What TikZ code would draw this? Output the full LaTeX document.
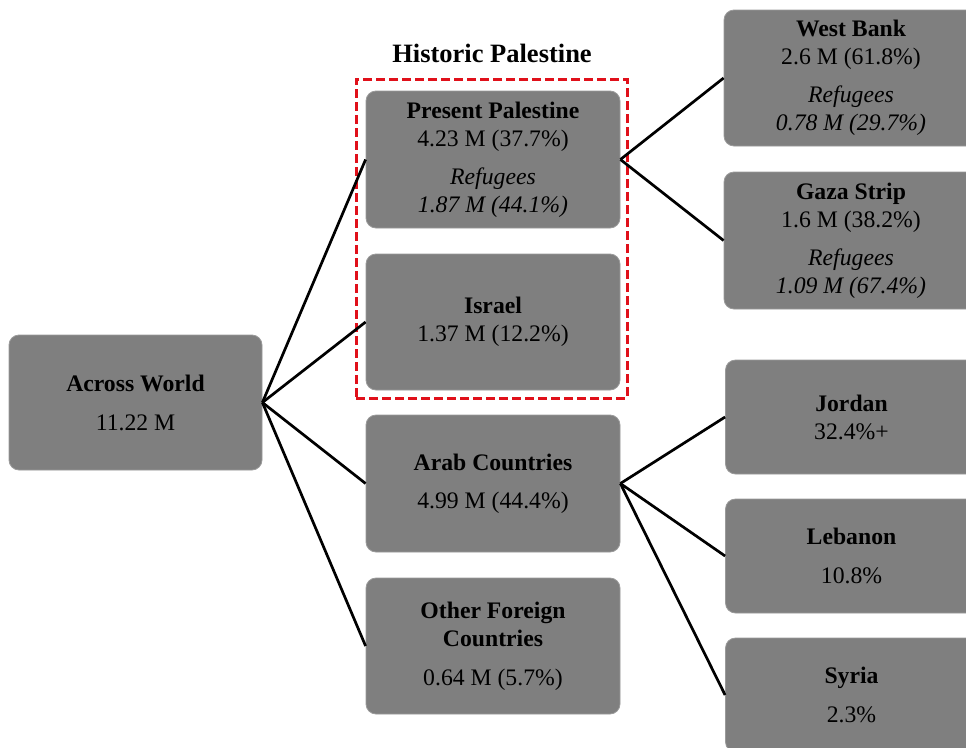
\documentclass[tikz,border=0pt]{standalone}
\usepackage{fontspec}
\setmainfont{Liberation Serif}
\usetikzlibrary{fit}
\definecolor{boxgray}{HTML}{7F7F7F}
\definecolor{boxedge}{HTML}{9A9A9A}
\definecolor{hpred}{HTML}{E0101A}
\begin{document}
\begin{tikzpicture}[x=1pt,y=-1pt,
 box/.style={draw=boxedge, line width=0.8pt, fill=boxgray, rounded corners=10pt,
   align=center, font=\fontsize{23.7}{28}\selectfont, text=black, inner sep=0pt},
 wide/.style={minimum width=254pt, minimum height=136pt},
 short/.style={minimum width=252pt, minimum height=114pt},
 link/.style={line width=2.7pt, draw=black},
 frame/.style={draw=hpred, line width=3pt, dash pattern=on 9pt off 4pt, inner sep=0pt},
]
\useasboundingbox (0,0) rectangle (966,747);
\clip (0,0) rectangle (966,747);

\node[box, minimum width=253pt, minimum height=135pt] (aw) at (135.5,402.5)
  {\textbf{Across World}\\[11pt]11.22 M};

\node[box, wide, minimum height=137pt] (pp) at (493,159.5)
  {\textbf{Present Palestine}\\4.23 M (37.7\%)\\[10pt]\textit{Refugees}\\\textit{1.87 M (44.1\%)}};
\node[box, wide] (isr) at (493,322)
  {\textbf{Israel}\\1.37 M (12.2\%)};
\node[box, wide, minimum height=137pt] (arab) at (493,483.5)
  {\textbf{Arab Countries}\\[10pt]4.99 M (44.4\%)};
\node[box, wide] (other) at (493,646)
  {\textbf{Other Foreign}\\\textbf{Countries}\\[11pt]0.64 M (5.7\%)};

\node[box, wide] (wb) at (851,78)
  {\textbf{West Bank}\\2.6 M (61.8\%)\\[10pt]\textit{Refugees}\\\textit{0.78 M (29.7\%)}};
\node[box, wide, minimum height=137pt] (gs) at (851,240.5)
  {\textbf{Gaza Strip}\\1.6 M (38.2\%)\\[10pt]\textit{Refugees}\\\textit{1.09 M (67.4\%)}};

\node[box, short] (jor) at (851.5,417)
  {\textbf{Jordan}\\32.4\%+};
\node[box, short] (leb) at (851.5,556)
  {\textbf{Lebanon}\\[11pt]10.8\%};
\node[box, short] (syr) at (851.5,695)
  {\textbf{Syria}\\[11pt]2.3\%};

\coordinate (hpnw) at (356,79);
\coordinate (hpse) at (627,398);
\node[frame, fit=(hpnw)(hpse)] (hp) {};
\node[font=\fontsize{26.5}{30}\selectfont\bfseries, text=black, anchor=center] (hptitle) at (492,53)
  {Historic Palestine};

\draw[link] (aw.east) -- (pp.west);
\draw[link] (aw.east) -- (isr.west);
\draw[link] (aw.east) -- (arab.west);
\draw[link] (aw.east) -- (other.west);
\draw[link] (pp.east) -- (wb.west);
\draw[link] (pp.east) -- (gs.west);
\draw[link] (arab.east) -- (jor.west);
\draw[link] (arab.east) -- (leb.west);
\draw[link] (arab.east) -- (syr.west);
\end{tikzpicture}
\end{document}
